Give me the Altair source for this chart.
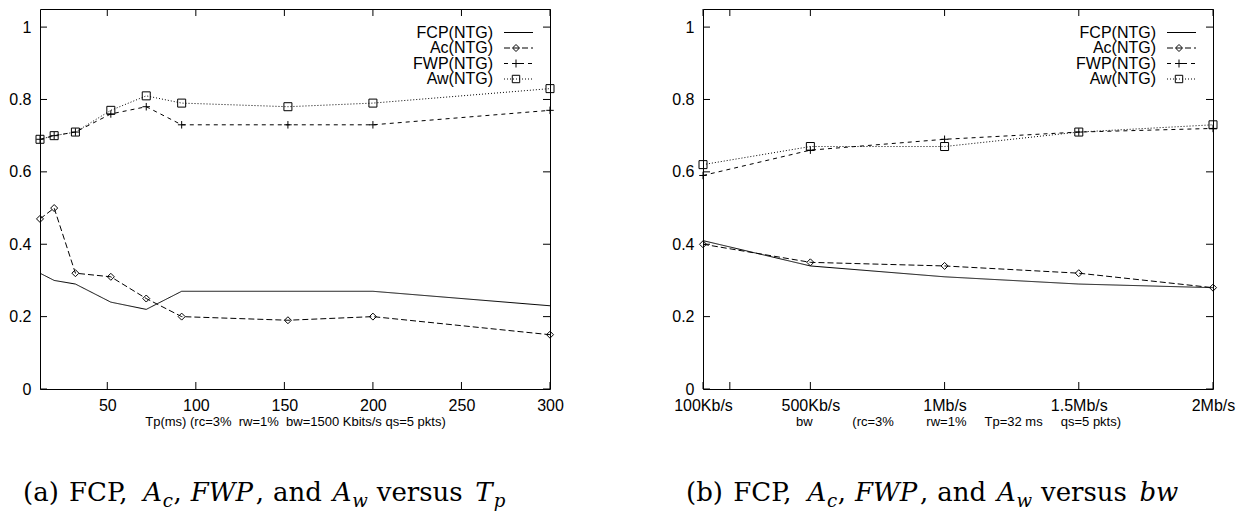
import altair as alt
import pandas as pd

# ---------------- data ----------------
SERIES = ["FCP(NTG)", "Ac(NTG)", "FWP(NTG)", "Aw(NTG)"]
MARKED = ["Ac(NTG)", "FWP(NTG)", "Aw(NTG)"]

# panel (a): versus Tp (ms)
TP_MS = [12, 20, 32, 52, 72, 92, 152, 200, 300]
FCP_A = [0.32, 0.30, 0.29, 0.24, 0.22, 0.27, 0.27, 0.27, 0.23]
AC_A = [0.47, 0.50, 0.32, 0.31, 0.25, 0.20, 0.19, 0.20, 0.15]
FWP_A = [0.69, 0.70, 0.71, 0.76, 0.78, 0.73, 0.73, 0.73, 0.77]
AW_A = [0.69, 0.70, 0.71, 0.77, 0.81, 0.79, 0.78, 0.79, 0.83]

# panel (b): versus bw (Kb/s)
BW_KBPS = [100, 500, 1000, 1500, 2000]
FCP_B = [0.41, 0.34, 0.31, 0.29, 0.28]
AC_B = [0.40, 0.35, 0.34, 0.32, 0.28]
FWP_B = [0.59, 0.66, 0.69, 0.71, 0.72]
AW_B = [0.62, 0.67, 0.67, 0.71, 0.73]

Y_TICKS = [0, 0.2, 0.4, 0.6, 0.8, 1.0]
TP_TICKS = [50, 100, 150, 200, 250, 300]
TP_TICK_LABELS = ["50", "100", "150", "200", "250", "300"]
BW_TICKS = [100, 200, 500, 1000, 1500, 2000]
BW_TICK_LABELS = ["100Kb/s", "", "500Kb/s", "1Mb/s", "1.5Mb/s", "2Mb/s"]

NB = "\u00a0"
TITLE_A = "Tp(ms) (rc=3%" + NB * 2 + "rw=1%" + NB * 2 + "bw=1500 Kbits/s qs=5 pkts)"
TITLE_B = "bw" + NB * 11 + "(rc=3%" + NB * 9 + "rw=1%" + NB * 5 + "Tp=32 ms" + NB * 5 + "qs=5 pkts)"

CAPTION_A = [("(a)", "n"), (" ", "n"), ("FCP,", "n"), (" ", "n"), ("A", "i"), ("c", "s"),
             (",", "n"), (" ", "n"), ("FWP", "i"), (",", "n"), (" ", "n"), ("and", "n"),
             (" ", "n"), ("A", "i"), ("w", "s"), (" ", "n"), ("versus", "n"), (" ", "n"),
             ("T", "i"), ("p", "s")]
CAPTION_B = [("(b)", "n")] + CAPTION_A[1:-2] + [("bw", "i")]

# ---------------- styles ----------------
W, H = 510, 380
TICK = 7
SANS = "Liberation Sans"
SERIF = "DejaVu Serif"
CAP_SIZE = 26
DASHES = {"FCP(NTG)": [1, 0], "Ac(NTG)": [6, 3], "FWP(NTG)": [4, 4], "Aw(NTG)": [1, 2]}
SHAPES = {"Ac(NTG)": "diamond", "FWP(NTG)": "M-1,0H1M0,-1V1", "Aw(NTG)": "square"}
SIZES = {"Ac(NTG)": 49, "FWP(NTG)": 64, "Aw(NTG)": 55}

CW = {" ": .318, "(": .39, ")": .39, ",": .318, "a": .596, "b": .64, "c": .56, "d": .64,
      "e": .592, "n": .644, "p": .64, "r": .479, "s": .513, "u": .644, "v": .565, "w": .832,
      "A": .722, "C": .735, "F": .686, "P": .676, "T": .686, "W": 1.028}


def tw(s, size):
    return sum(CW.get(ch, .6) for ch in s) * size


def label_expr(values, labels):
    expr = "''"
    for v, l in zip(reversed(values), reversed(labels)):
        expr = f"datum.value == {v} ? '{l}' : ({expr})"
    return expr


def caption_layers(pieces, x0, k, y_base):
    layers = []
    cur = 0.0
    for text, style in pieces:
        size = CAP_SIZE * (0.7 if style == "s" else 1.0)
        if text.strip():
            layers.append(
                alt.Chart(pd.DataFrame({"t": [text]}))
                .mark_text(align="left", baseline="alphabetic", font=SERIF, fontSize=size,
                           fontStyle="normal" if style == "n" else "italic", color="black")
                .encode(text="t:N", x=alt.value(x0 + cur * k),
                        y=alt.value(y_base + (6 if style == "s" else 0)))
            )
        cur += tw(text, size)
    return layers


def raw_width(pieces):
    return sum(tw(t, CAP_SIZE * (0.7 if s == "s" else 1.0)) for t, s in pieces)


CAP_K = 483 / raw_width(CAPTION_A)


def panel(xv, ys, domain, ticks, tick_labels, title, caption):
    rows = []
    for s, vals in zip(SERIES, ys):
        for a, b in zip(xv, vals):
            rows.append({"x": a, "y": b, "series": s})
    df = pd.DataFrame(rows)
    xs = alt.Scale(domain=domain, nice=False, zero=False)
    ysc = alt.Scale(domain=[0, 1.05], nice=False, zero=False)

    x_axis = alt.Axis(values=ticks, labelExpr=label_expr(ticks, tick_labels), ticks=False,
                      domain=False, grid=False, labelFont=SANS, labelFontSize=16,
                      labelColor="black", labelPadding=8, labelOverlap=False, labelFlush=False,
                      title=title, titleFont=SANS, titleFontSize=13, titleFontWeight="normal",
                      titleColor="black", titlePadding=2)
    y_axis = alt.Axis(values=Y_TICKS, format="~g", ticks=False, domain=False, grid=False,
                      labelFont=SANS, labelFontSize=16, labelColor="black", labelPadding=9,
                      labelFlush=False, title="")

    def X(field):
        return alt.X(field, scale=xs, axis=x_axis, title=title)

    def Y(field):
        return alt.Y(field, scale=ysc, axis=y_axis, title="")

    lines = alt.Chart(df).mark_line(color="black", strokeWidth=1).encode(
        x=X("x:Q"), y=Y("y:Q"),
        strokeDash=alt.StrokeDash("series:N", scale=alt.Scale(domain=SERIES, range=[DASHES[s] for s in SERIES]), legend=None),
    )
    points = alt.Chart(df).transform_filter(
        alt.FieldOneOfPredicate(field="series", oneOf=MARKED)
    ).mark_point(filled=False, color="black", strokeWidth=1, opacity=1).encode(
        x=X("x:Q"), y=Y("y:Q"),
        shape=alt.Shape("series:N", scale=alt.Scale(domain=MARKED, range=[SHAPES[s] for s in MARKED]), legend=None),
        size=alt.Size("series:O", scale=alt.Scale(domain=MARKED, range=[SIZES[s] for s in MARKED]), legend=None),
    )

    xt = pd.DataFrame({"x": ticks})
    yt = pd.DataFrame({"y": Y_TICKS})
    tick_layers = [
        alt.Chart(xt).mark_rule(color="black", strokeWidth=1).encode(
            x=X("x:Q"), y=alt.value(0), y2=alt.value(TICK)),
        alt.Chart(xt).mark_rule(color="black", strokeWidth=1).encode(
            x=X("x:Q"), y=alt.value(H), y2=alt.value(H - TICK)),
        alt.Chart(yt).mark_rule(color="black", strokeWidth=1).encode(
            y=Y("y:Q"), x=alt.value(0), x2=alt.value(TICK)),
        alt.Chart(yt).mark_rule(color="black", strokeWidth=1).encode(
            y=Y("y:Q"), x=alt.value(W), x2=alt.value(W - TICK)),
    ]

    legend_layers = []
    for i, s in enumerate(SERIES):
        ly = 23.5 + i * 15.5
        one = pd.DataFrame({"label": [s]})
        legend_layers.append(
            alt.Chart(one).mark_text(align="right", baseline="middle", font=SANS, fontSize=16, color="black")
            .encode(text="label:N", x=alt.value(W - 57), y=alt.value(ly)))
        legend_layers.append(
            alt.Chart(one).mark_rule(color="black", strokeWidth=1)
            .encode(x=alt.value(W - 46), x2=alt.value(W - 17), y=alt.value(ly),
                    strokeDash=alt.value(DASHES[s])))
        if s in SHAPES:
            legend_layers.append(
                alt.Chart(one).mark_point(shape=SHAPES[s], size=SIZES[s], filled=False,
                                          color="black", strokeWidth=1, opacity=1)
                .encode(x=alt.value(W - 34), y=alt.value(ly)))

    cap = caption_layers(caption, -17, CAP_K, 492)

    return alt.layer(lines, points, *tick_layers, *legend_layers, *cap).properties(width=W, height=H)


pa = panel(TP_MS, [FCP_A, AC_A, FWP_A, AW_A], [12, 300], TP_TICKS, TP_TICK_LABELS, TITLE_A, CAPTION_A)
pb = panel(BW_KBPS, [FCP_B, AC_B, FWP_B, AW_B], [100, 2000], BW_TICKS, BW_TICK_LABELS, TITLE_B, CAPTION_B)

chart = alt.hconcat(pa, pb, spacing=153, bounds="flush").properties(
    padding={"left": 8, "top": 8, "right": 0, "bottom": 0},
    background="white",
).configure_view(stroke="black", strokeWidth=1)

chart.save("out.html", embed_options={"renderer": "svg", "actions": False})
